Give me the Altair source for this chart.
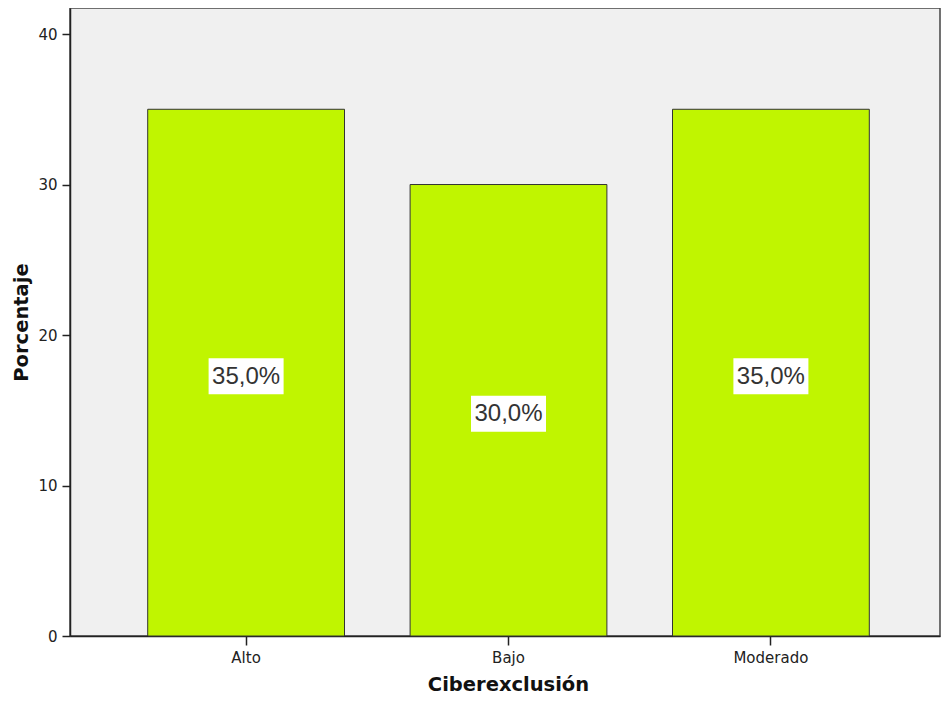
import altair as alt
import pandas as pd

categories = ["Alto", "Bajo", "Moderado"]
percentages = [35.0, 30.0, 35.0]
y_ticks = [0, 10, 20, 30, 40]

labels = [f"{v:.1f}%".replace(".", ",") for v in percentages]
df = pd.DataFrame({"cat": categories, "pct": percentages, "label": labels})

x_enc = alt.X(
    "cat:N",
    sort=categories,
    scale=alt.Scale(paddingInner=0.25, paddingOuter=0.2828, align=0.5236),
    axis=alt.Axis(
        title="Ciberexclusión",
        labelAngle=0,
        labelFont="DejaVu Sans",
        labelFontSize=15,
        labelColor="#222222",
        labelPadding=5,
        tickSize=9,
        tickColor="#222222",
        tickWidth=1.5,
        domainColor="#222222",
        domainWidth=1.5,
        titleFont="DejaVu Sans",
        titleFontSize=19.5,
        titleFontWeight="bold",
        titleColor="#111111",
        titleX=438,
        titleY=48,
        titleAlign="center",
        titleBaseline="middle",
    ),
)

bars = alt.Chart(df).mark_bar(
    fill="#C0F500", stroke="#333333", strokeWidth=1
).encode(
    x=x_enc,
    y=alt.Y(
        "pct:Q",
        scale=alt.Scale(domain=[0, 41.73], nice=False),
        axis=alt.Axis(
            title="Porcentaje",
            values=y_ticks,
            grid=False,
            labelFont="DejaVu Sans",
            labelFontSize=15,
            labelColor="#222222",
            labelPadding=5,
            tickSize=8,
            tickColor="#222222",
            tickWidth=1.5,
            domainColor="#222222",
            domainWidth=1.5,
            titleFont="DejaVu Sans",
            titleFontSize=19.5,
            titleFontWeight="bold",
            titleColor="#111111",
            titleX=-49,
            titleY=314,
            titleAngle=270,
            titleAlign="center",
            titleBaseline="middle",
        ),
    ),
)

boxes = alt.Chart(df).transform_calculate(
    half="datum.pct / 2"
).mark_point(
    shape="M-1,-0.48H1V0.48H-1Z",
    size=5625,
    filled=True,
    fill="white",
    opacity=1,
    strokeWidth=0,
    yOffset=3.5,
).encode(
    x=alt.X("cat:N", sort=categories),
    y=alt.Y("half:Q"),
)

texts = alt.Chart(df).transform_calculate(
    half="datum.pct / 2"
).mark_text(
    font="Liberation Sans",
    fontSize=24,
    color="#333333",
    baseline="middle",
    align="center",
    yOffset=4,
).encode(
    x=alt.X("cat:N", sort=categories),
    y=alt.Y("half:Q"),
    text="label:N",
)

chart = alt.layer(bars, boxes, texts).properties(
    width=870,
    height=628,
    autosize=alt.AutoSizeParams(type="none"),
    padding={"left": 62, "top": 0, "right": 1, "bottom": 62},
).configure_view(
    fill="#F0F0F0", stroke="#444444", strokeWidth=1.5
)

chart.save("out.html", embed_options={"renderer": "svg", "actions": False})
